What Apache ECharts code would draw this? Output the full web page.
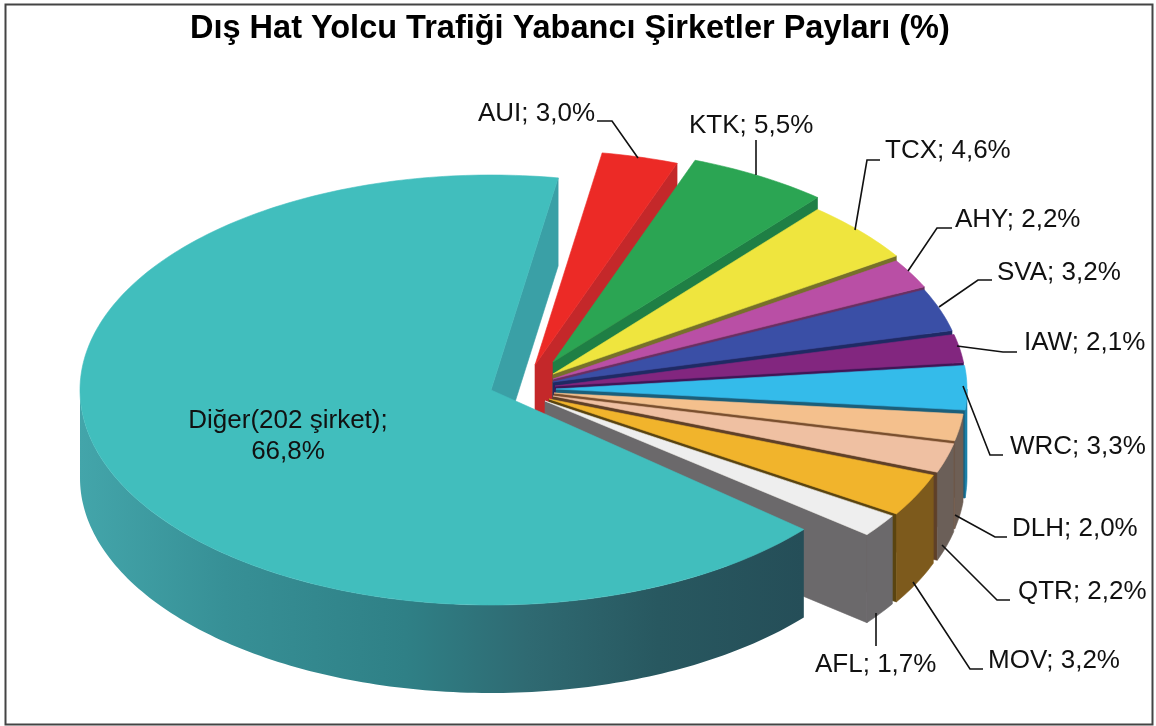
<!DOCTYPE html>
<html><head><meta charset="utf-8">
<style>html,body{margin:0;padding:0;background:#fff}#c{width:1156px;height:726px}</style>
<script src="https://cdn.jsdelivr.net/npm/echarts@6/dist/echarts.min.js"></script>
</head><body><div id="c"></div>
<script>
const titleText = 'Dış Hat Yolcu Trafiği Yabancı Şirketler Payları (%)';
const names = ['AUI','KTK','TCX','AHY','SVA','IAW','WRC','DLH','QTR','MOV','AFL','Diğer(202 şirket)'];
const shares = [3.0,5.5,4.6,2.2,3.2,2.1,3.3,2.0,2.2,3.2,1.7,66.8];

const topColors = ['#ec2a26','#2ba553','#efe53e','#b94fa5','#3a4fa6','#82267f','#34bbea','#f4c08d','#efc0a2','#f1b42c','#eeeeee','#41bebd'];
const wallColors = ['#c4282a','#1f7f45','#8c8430','#7a3a70','#23306e','#4a1a60','#1a7fa8','#6e5f55','#6b5f58','#7d5a1c','#6b696b','#3aa0a6'];
const cutColors = ['#c4282a','#1f7f45','#77702a','#6a2f62','#1f2a64','#3f1656','#1b5f7a','#7a4f2e','#5f4028','#5a4410','#6b696b','#3aa0a6'];
const apexes = [[535,365],[553,362],[553,374],[553,379],[553,382],[555,386],[556,389],[554,393],[553,396],[549,399],[545,401],[491,390]];
const labelPos = [[478,114],[689,126],[885,151],[955,220],[997,273],[1024,343],[1010,447],[1012,529],[1018,592],[988,661],[815,665],[288,436]];
const leaders = [
  [[597,121],[612,121],[638,158]],
  [[756,140],[756,175]],
  [[880,160],[867,160],[855,230]],
  [[952,228],[937,228],[908,271]],
  [[992,280],[978,280],[939,307]],
  [[1017,352],[1003,352],[957,346]],
  [[1003,455],[990,455],[963,386]],
  [[1007,537],[995,537],[955,515]],
  [[1010,600],[997,600],[942,545]],
  [[983,669],[970,669],[913,582]],
  [[876,646],[876,613]],
  []
];
const RX = 411, RY = 215, DEPTH = 88, START = 9.4, MAIN_TRIM = 2;
const total = shares.reduce((a,b)=>a+b,0);
const startAngles = []; let acc = START;
shares.forEach(v => { startAngles.push(acc); acc += v / total * 360; });

function rim(ap, deg, dy) {
  const t = deg * Math.PI / 180;
  return [ap[0] + RX * Math.sin(t), ap[1] - RY * Math.cos(t) + (dy || 0)];
}
function arc(ap, a, b, dy) {
  const pts = [], n = Math.max(2, Math.ceil(Math.abs(b - a)));
  for (let i = 0; i <= n; i++) pts.push(rim(ap, a + (b - a) * i / n, dy));
  return pts;
}
const mainWallFill = { type:'linear', x:80, y:0, x2:803, y2:0, global:true, colorStops:[
  {offset:0,color:'#43a5aa'},{offset:.2,color:'#379096'},{offset:.45,color:'#2f8086'},
  {offset:.62,color:'#2f6a72'},{offset:.8,color:'#285860'},{offset:1,color:'#254e58'}]};

function renderItem(params, api) {
  const i = params.dataIndex, v = api.value(0);
  const isMain = i === names.length - 1;
  const ap = apexes[i], a1 = startAngles[i] + v / total * 360;
  const a0 = startAngles[i] + (isMain ? MAIN_TRIM : 0);
  const kids = [];
  const poly = (points, fill) => kids.push({type:'polygon', shape:{points},
    style:{fill, stroke: typeof fill === 'string' ? fill : null, lineWidth:.6}});
  const e = rim(ap, a1), eb = rim(ap, a1, DEPTH);
  poly([ap, e, eb, [ap[0], ap[1] + DEPTH]], cutColors[i]);
  const w0 = Math.max(a0, 90), w1 = Math.min(a1, 270);
  if (w1 > w0) {
    poly(arc(ap, w0, w1, 0).concat(arc(ap, w1, w0, DEPTH)), isMain ? mainWallFill : wallColors[i]);
  }
  poly([ap].concat(arc(ap, a0, a1, 0)), topColors[i]);
  return {type:'group', children:kids};
}
function renderLabels(params, api) {
  const i = params.dataIndex, v = api.value(0);
  const isMain = i === names.length - 1;
  const txt = names[i] + ';' + (isMain ? '\n' : ' ') + v.toFixed(1).replace('.', ',') + '%';
  const kids = [{type:'text', style:{
    x:labelPos[i][0], y:labelPos[i][1], text:txt, fill:'#111',
    fontFamily:'Liberation Sans', fontSize:26, lineHeight:31,
    align:isMain ? 'center' : 'left', verticalAlign:'middle'}}];
  if (leaders[i].length) kids.push({type:'polyline', shape:{points:leaders[i]}, style:{stroke:'#111', lineWidth:1.6, fill:null}});
  return {type:'group', children:kids};
}
const chart = echarts.init(document.getElementById('c'), null, {renderer:'canvas'});
chart.setOption({
  animation:false,
  backgroundColor:'#fff',
  title:{text:titleText, left:190, top:13, padding:0,
    textStyle:{fontFamily:'Liberation Sans', fontWeight:'bold', fontSize:32.5, color:'#000'}},
  graphic:[{type:'rect', left:3, top:2, shape:{width:1147, height:720}, style:{fill:'none', stroke:'#444', lineWidth:2}, silent:true}],
  series:[
    {type:'custom', coordinateSystem:'none', renderItem, silent:true, z:2, data:shares.map(v=>[v])},
    {type:'custom', coordinateSystem:'none', renderItem:renderLabels, silent:true, z:3, data:shares.map(v=>[v])}
  ]
});
</script></body></html>
